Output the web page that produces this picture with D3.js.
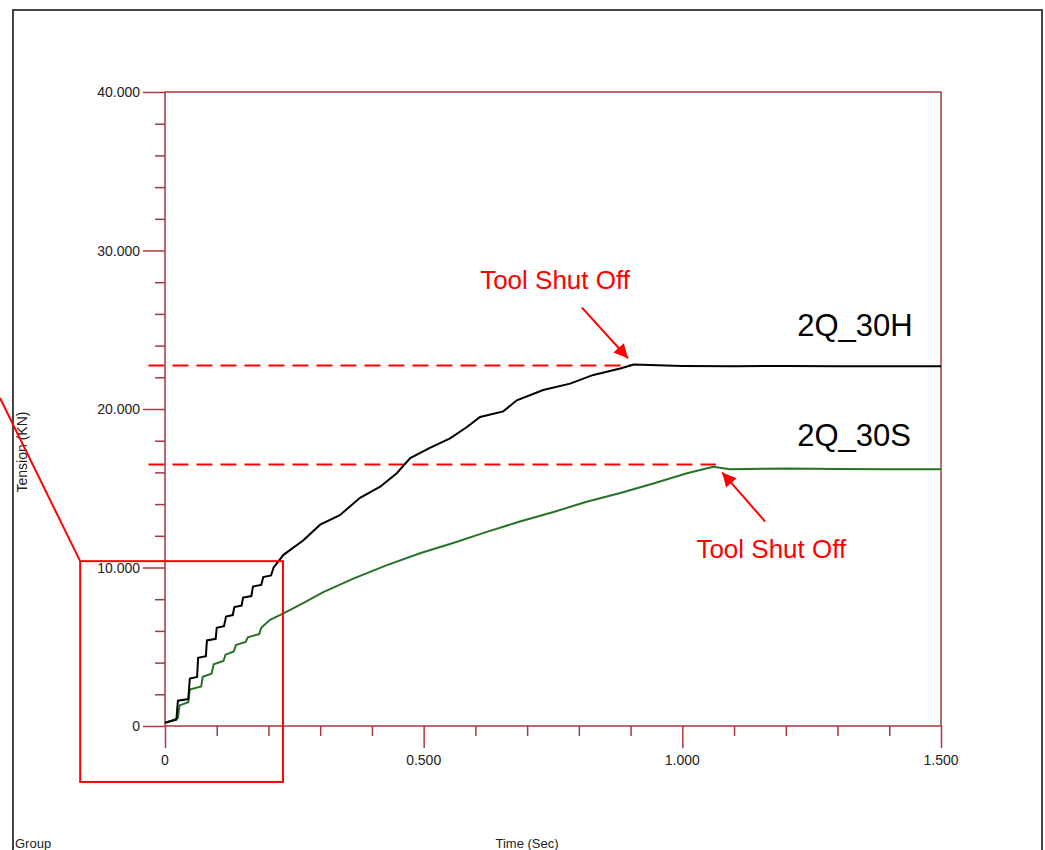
<!DOCTYPE html>
<head>
  <title>Tension vs Time</title>
  <meta charset="utf-8">
  <script type="text/javascript" src="https://d3js.org/d3.v7.min.js"></script>
  <style>
    body { margin: 0; background: white; }
    text { font-family: Arial, "Liberation Sans", sans-serif; }
  </style>
</head>
<body>
<script type="text/javascript">
// 2Q_30H (black)
const blackT = [0, 0.01, 0.022, 0.025, 0.045, 0.048, 0.062, 0.064, 0.079, 0.081, 0.098, 0.1, 0.114, 0.118, 0.131, 0.134, 0.148, 0.151, 0.167, 0.17, 0.186, 0.19, 0.205, 0.21, 0.229, 0.267, 0.3, 0.338, 0.377, 0.416, 0.448, 0.474, 0.512, 0.551, 0.583, 0.609, 0.654, 0.68, 0.731, 0.783, 0.828, 0.88, 0.906, 1.0, 1.1, 1.2, 1.3, 1.4, 1.5]
const blackV = [0.2, 0.3, 0.4, 1.6, 1.7, 3.0, 3.1, 4.3, 4.4, 5.4, 5.5, 6.2, 6.3, 6.9, 7.0, 7.5, 7.6, 8.1, 8.2, 8.8, 8.9, 9.4, 9.5, 10.0, 10.8, 11.7, 12.7, 13.3, 14.4, 15.1, 15.95, 16.9, 17.55, 18.15, 18.85, 19.5, 19.85, 20.55, 21.2, 21.6, 22.15, 22.55, 22.8, 22.72, 22.7, 22.72, 22.7, 22.7, 22.7]
// 2Q_30S (green)
const greenT = [0, 0.01, 0.025, 0.028, 0.045, 0.048, 0.07, 0.073, 0.09, 0.094, 0.113, 0.117, 0.133, 0.137, 0.156, 0.16, 0.182, 0.186, 0.203, 0.229, 0.267, 0.306, 0.364, 0.429, 0.493, 0.557, 0.622, 0.686, 0.751, 0.815, 0.88, 0.944, 1.009, 1.06, 1.092, 1.2, 1.3, 1.4, 1.5]
const greenV = [0.2, 0.3, 0.5, 1.3, 1.5, 2.3, 2.5, 3.1, 3.3, 3.9, 4.1, 4.5, 4.7, 5.1, 5.3, 5.6, 5.8, 6.2, 6.7, 7.1, 7.75, 8.45, 9.3, 10.15, 10.9, 11.55, 12.25, 12.9, 13.5, 14.15, 14.7, 15.3, 15.95, 16.35, 16.2, 16.25, 16.22, 16.2, 16.2]

const xMajor = [0, 0.5, 1.0, 1.5]
const xMajorLabels = ['0', '0.500', '1.000', '1.500']
const yMajor = [0, 10, 20, 30, 40]
const yMajorLabels = ['0', '10.000', '20.000', '30.000', '40.000']

// shut-off levels: [level, dashed line end time]
const shutOff = [[22.75, 0.9], [16.5, 1.065]]
const seriesNames = ['2Q_30H', '2Q_30S']

const W = 1045, H = 850
const axisColor = '#a8383c'

const svg = d3.select('body').append('svg').attr('width', W).attr('height', H)

const x = d3.scaleLinear().domain([0, 1.5]).range([165, 941])
const y = d3.scaleLinear().domain([0, 40]).range([726, 92])

// outer frame
svg.append('path')
  .attr('d', `M13,${H} L13,10 L1042,10 L1042,${H}`)
  .attr('fill', 'none').attr('stroke', '#444').attr('stroke-width', 2)

// plot box
svg.append('rect')
  .attr('x', x(0)).attr('y', y(40))
  .attr('width', x(1.5) - x(0)).attr('height', y(0) - y(40))
  .attr('fill', 'none').attr('stroke', axisColor).attr('stroke-width', 1.5)

// y axis
const yAxis = d3.axisLeft(y).tickValues(d3.range(0, 40.1, 2)).tickFormat('')
  .tickSize(10).tickSizeOuter(0)
const gy = svg.append('g').attr('transform', `translate(${x(0)},0)`).call(yAxis)
gy.selectAll('.tick line').attr('x2', d => yMajor.includes(d) ? -22 : -10)
gy.selectAll('line, path').attr('stroke', axisColor).attr('stroke-width', 1.5)
gy.select('.domain').remove()
svg.selectAll('.ylab').data(yMajor).enter().append('text')
  .attr('x', x(0) - 25).attr('y', d => y(d) + 5)
  .attr('text-anchor', 'end').attr('font-size', 14).attr('fill', '#222')
  .text((d, i) => yMajorLabels[i])

// x axis
const xAxis = d3.axisBottom(x).tickValues(d3.range(0, 1.501, 0.1)).tickFormat('')
  .tickSize(10).tickSizeOuter(0)
const gx = svg.append('g').attr('transform', `translate(0,${y(0)})`).call(xAxis)
gx.selectAll('.tick line').attr('y2', d => xMajor.some(m => Math.abs(m - d) < 1e-6) ? 22 : 10)
gx.selectAll('line, path').attr('stroke', axisColor).attr('stroke-width', 1.5)
gx.select('.domain').remove()
svg.selectAll('.xlab').data(xMajor).enter().append('text')
  .attr('x', d => x(d)).attr('y', y(0) + 39)
  .attr('text-anchor', 'middle').attr('font-size', 14).attr('fill', '#222')
  .text((d, i) => xMajorLabels[i])

// axis titles
svg.append('text').attr('transform', 'translate(27,452) rotate(-90)')
  .attr('text-anchor', 'middle').attr('font-size', 14).attr('fill', '#222').text('Tension (KN)')
svg.append('text').attr('x', 527).attr('y', 848)
  .attr('text-anchor', 'middle').attr('font-size', 13).attr('fill', '#222').text('Time (Sec)')
svg.append('text').attr('x', 15).attr('y', 848)
  .attr('font-size', 13).attr('fill', '#222').text('Group')

// dashed shut-off lines
svg.selectAll('.dash').data(shutOff).enter().append('line')
  .attr('x1', x(-0.032)).attr('x2', d => x(d[1]))
  .attr('y1', d => y(d[0])).attr('y2', d => y(d[0]))
  .attr('stroke', '#ff0000').attr('stroke-width', 2).attr('stroke-dasharray', '16,8')

// curves
const line = d3.line().x(d => x(d[0])).y(d => y(d[1]))
svg.append('path').datum(d3.zip(greenT, greenV)).attr('d', line)
  .attr('fill', 'none').attr('stroke', '#267326').attr('stroke-width', 2)
svg.append('path').datum(d3.zip(blackT, blackV)).attr('d', line)
  .attr('fill', 'none').attr('stroke', '#000').attr('stroke-width', 2)

// series labels
svg.append('text').attr('x', x(1.222)).attr('y', y(24.6))
  .attr('font-size', 31).attr('fill', '#000').text(seriesNames[0])
svg.append('text').attr('x', x(1.222)).attr('y', y(17.65))
  .attr('font-size', 31).attr('fill', '#000').text(seriesNames[1])

// annotations
const defs = svg.append('defs')
defs.append('marker').attr('id', 'arr').attr('viewBox', '0 0 10 10')
  .attr('refX', 10).attr('refY', 5)
  .attr('orient', 'auto').attr('markerUnits', 'userSpaceOnUse')
  .attr('markerWidth', 16).attr('markerHeight', 14)
  .append('path').attr('d', 'M0,0 L10,5 L0,10 z').attr('fill', '#ff0000')

const notes = [
  { tx: 0.754, ty: 27.6, x1: 0.806, y1: 26.4, x2: 0.895, y2: 23.2 },
  { tx: 1.172, ty: 10.6, x1: 1.16, y1: 12.9, x2: 1.077, y2: 16.0 }
]
notes.forEach(n => {
  svg.append('text').attr('x', x(n.tx)).attr('y', y(n.ty))
    .attr('text-anchor', 'middle').attr('font-size', 26).attr('fill', '#ff0000').text('Tool Shut Off')
  svg.append('line').attr('x1', x(n.x1)).attr('y1', y(n.y1)).attr('x2', x(n.x2)).attr('y2', y(n.y2))
    .attr('stroke', '#ff0000').attr('stroke-width', 2).attr('marker-end', 'url(#arr)')
})

// zoom box and leader line
svg.append('rect').attr('x', x(-0.164)).attr('y', y(10.4))
  .attr('width', x(0.228) - x(-0.164)).attr('height', y(-3.53) - y(10.4))
  .attr('fill', 'none').attr('stroke', '#ff0000').attr('stroke-width', 2)
svg.append('line').attr('x1', x(-0.164)).attr('y1', y(10.4)).attr('x2', 0).attr('y2', 398)
  .attr('stroke', '#ff0000').attr('stroke-width', 2)
</script>
</body>
